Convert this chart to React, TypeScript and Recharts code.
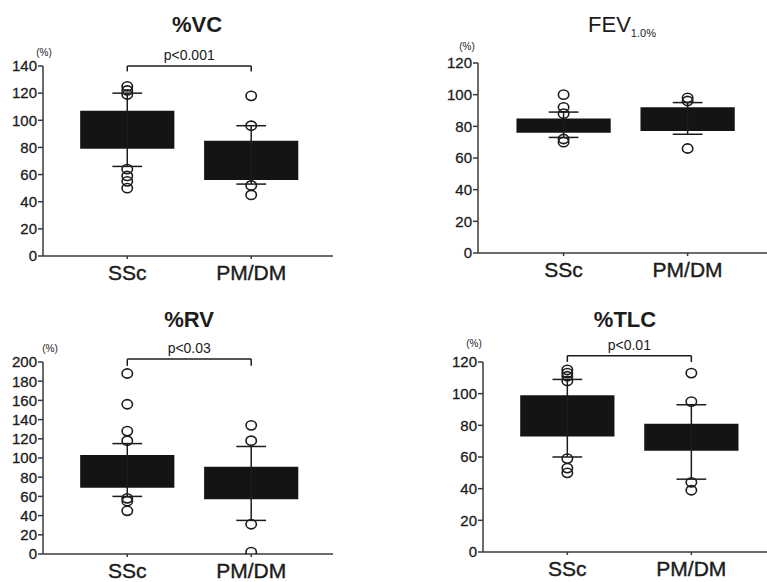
import React from "react";
import {
  ComposedChart,
  XAxis,
  YAxis,
  Scatter,
  ReferenceArea,
  ReferenceLine,
} from "recharts";

const groups = ["SSc", "PM/DM"];

// %VC
const vcQ1 = [79, 56];
const vcQ3 = [107, 85];
const vcLow = [66, 53];
const vcHigh = [120, 96];
const vcOutliers = [
  [125, 122, 119, 64, 59, 55, 50],
  [118, 96, 52, 45],
];
const vcTicks = [0, 20, 40, 60, 80, 100, 120, 140];

// FEV1.0%
const fevQ1 = [76, 77];
const fevQ3 = [85, 92];
const fevLow = [73, 75];
const fevHigh = [89, 95];
const fevOutliers = [
  [100, 92, 88, 72, 70],
  [98, 96, 66],
];
const fevTicks = [0, 20, 40, 60, 80, 100, 120];

// %RV
const rvQ1 = [69, 57];
const rvQ3 = [103, 91];
const rvLow = [60, 35];
const rvHigh = [115, 112];
const rvOutliers = [
  [188, 156, 128, 118, 58, 55, 45],
  [134, 118, 31, 2],
];
const rvTicks = [0, 20, 40, 60, 80, 100, 120, 140, 160, 180, 200];

// %TLC
const tlcQ1 = [73, 64];
const tlcQ3 = [99, 81];
const tlcLow = [60, 46];
const tlcHigh = [109, 93];
const tlcOutliers = [
  [115, 113, 111, 108, 59, 53, 50],
  [113, 95, 44, 39],
];
const tlcTicks = [0, 20, 40, 60, 80, 100, 120];

const INK = "#1c1c1c";
const AXIS = "#3a3a3a";

type PanelProps = {
  title: React.ReactNode;
  titleX: number;
  titleY: number;
  bold?: boolean;
  pctX: number;
  pctY: number;
  q1: number[];
  q3: number[];
  low: number[];
  high: number[];
  outliers: number[][];
  ticks: number[];
  pLabel?: string;
  bracket?: [number, number];
  plotLeft: number;
  plotTop: number;
  plotW: number;
  plotH: number;
  domain: [number, number];
};

const Ring = (props: any) => (
  <ellipse
    cx={props.cx}
    cy={props.cy}
    rx={5.2}
    ry={4.6}
    fill="none"
    stroke={INK}
    strokeWidth={1.6}
  />
);

const BoxPanel = (p: PanelProps) => {
  const yW = 45;
  const topM = 40;
  const xH = 36;
  const points = p.outliers.flatMap((vals, i) =>
    vals.map((v) => ({ x: i + 1, y: v }))
  );
  const yMax = p.ticks[p.ticks.length - 1];
  return (
    <>
      <div
        style={{
          position: "absolute",
          left: p.titleX - 100,
          width: 200,
          top: p.titleY,
          textAlign: "center",
          fontSize: 22,
          lineHeight: "22px",
          fontWeight: p.bold ? "bold" : "normal",
          color: INK,
        }}
      >
        {p.title}
      </div>
      <div
        style={{
          position: "absolute",
          left: p.pctX - 10,
          width: 20,
          top: p.pctY - 5,
          textAlign: "center",
          fontSize: 10,
          lineHeight: "10px",
          color: INK,
        }}
      >
        (%)
      </div>
      <div
        style={{
          position: "absolute",
          left: p.plotLeft - yW,
          top: p.plotTop - topM,
        }}
      >
        <ComposedChart
          width={yW + p.plotW + 2}
          height={topM + p.plotH + xH}
          margin={{ top: topM, right: 2, bottom: 0, left: 0 }}
        >
          <XAxis
            type="number"
            dataKey="x"
            domain={p.domain}
            ticks={[1, 2]}
            allowDataOverflow
            tickFormatter={(v: number) => groups[v - 1]}
            tickSize={3}
            tickMargin={6}
            height={xH}
            stroke={AXIS}
            strokeWidth={1.5}
            tick={{ fontSize: 21, fill: INK, stroke: INK, strokeWidth: 0.4 }}
          />
          <YAxis
            type="number"
            dataKey="y"
            domain={[0, yMax]}
            ticks={p.ticks}
            interval={0}
            allowDataOverflow
            width={yW}
            tickSize={5}
            tickMargin={1}
            stroke={AXIS}
            strokeWidth={1.5}
            tick={{ fontSize: 15, fill: INK, stroke: INK, strokeWidth: 0.3 }}
          />
          {groups.map((g, i) => (
            <ReferenceLine
              key={"w" + g}
              segment={[
                { x: i + 1, y: p.low[i] },
                { x: i + 1, y: p.high[i] },
              ]}
              stroke={INK}
              strokeWidth={1.5}
            />
          ))}
          {groups.map((g, i) => (
            <ReferenceArea
              key={"b" + g}
              x1={i + 1 - 0.38}
              x2={i + 1 + 0.38}
              y1={p.q1[i]}
              y2={p.q3[i]}
              fill="#141414"
              fillOpacity={1}
              stroke="none"
            />
          ))}
          {groups.map((g, i) =>
            [p.low[i], p.high[i]].map((v, k) => (
              <ReferenceLine
                key={"c" + g + k}
                segment={[
                  { x: i + 1 - 0.12, y: v },
                  { x: i + 1 + 0.12, y: v },
                ]}
                stroke={INK}
                strokeWidth={1.5}
              />
            ))
          )}
          {p.bracket && (
            <ReferenceLine
              segment={[
                { x: 1, y: p.bracket[1] },
                { x: 1, y: p.bracket[0] },
              ]}
              stroke={INK}
              strokeWidth={1.5}
              ifOverflow="visible"
            />
          )}
          {p.bracket && (
            <ReferenceLine
              segment={[
                { x: 2, y: p.bracket[1] },
                { x: 2, y: p.bracket[0] },
              ]}
              stroke={INK}
              strokeWidth={1.5}
              ifOverflow="visible"
            />
          )}
          {p.bracket && (
            <ReferenceLine
              segment={[
                { x: 1, y: p.bracket[0] },
                { x: 2, y: p.bracket[0] },
              ]}
              stroke={INK}
              strokeWidth={1.5}
              ifOverflow="visible"
              label={{
                value: p.pLabel,
                position: "top",
                offset: 6,
                fontSize: 14,
                fill: INK,
              }}
            />
          )}
          <Scatter
            data={points}
            dataKey="y"
            shape={Ring}
            isAnimationActive={false}
          />
        </ComposedChart>
      </div>
    </>
  );
};

export default function App() {
  return (
    <div
      style={{
        position: "absolute",
        left: 0,
        top: 0,
        width: 767,
        height: 582,
        overflow: "hidden",
        background: "#fff",
        fontFamily: "'Liberation Sans', Arial, sans-serif",
      }}
    >
      <BoxPanel
        title="%VC"
        bold
        titleX={197}
        titleY={14}
        pctX={44}
        pctY={53}
        q1={vcQ1}
        q3={vcQ3}
        low={vcLow}
        high={vcHigh}
        outliers={vcOutliers}
        ticks={vcTicks}
        pLabel="p<0.001"
        bracket={[140, 136]}
        plotLeft={43}
        plotTop={66}
        plotW={290}
        plotH={190}
        domain={[0.32, 2.66]}
      />
      <BoxPanel
        title={
          <span>
            FEV<sub style={{ fontSize: 11 }}>1.0%</sub>
          </span>
        }
        titleX={622}
        titleY={14}
        pctX={467}
        pctY={47}
        q1={fevQ1}
        q3={fevQ3}
        low={fevLow}
        high={fevHigh}
        outliers={fevOutliers}
        ticks={fevTicks}
        plotLeft={478}
        plotTop={63}
        plotW={289}
        plotH={190}
        domain={[0.31, 2.64]}
      />
      <BoxPanel
        title="%RV"
        bold
        titleX={189}
        titleY={309}
        pctX={50}
        pctY={349}
        q1={rvQ1}
        q3={rvQ3}
        low={rvLow}
        high={rvHigh}
        outliers={rvOutliers}
        ticks={rvTicks}
        pLabel="p<0.03"
        bracket={[203, 196]}
        plotLeft={43}
        plotTop={362}
        plotW={290}
        plotH={192}
        domain={[0.32, 2.66]}
      />
      <BoxPanel
        title="%TLC"
        bold
        titleX={625}
        titleY={309}
        pctX={474}
        pctY={344}
        q1={tlcQ1}
        q3={tlcQ3}
        low={tlcLow}
        high={tlcHigh}
        outliers={tlcOutliers}
        ticks={tlcTicks}
        pLabel="p<0.01"
        bracket={[124, 120]}
        plotLeft={483}
        plotTop={362}
        plotW={284}
        plotH={190}
        domain={[0.32, 2.61]}
      />
    </div>
  );
}
